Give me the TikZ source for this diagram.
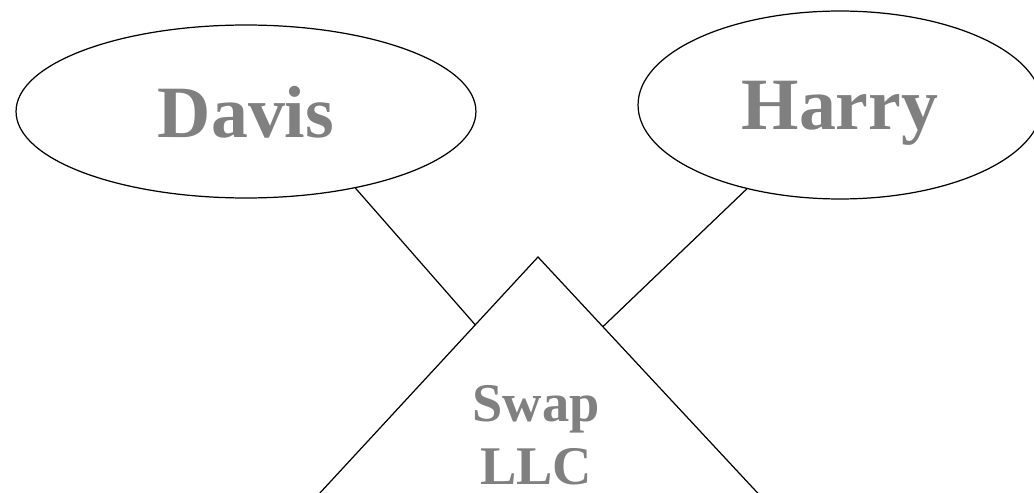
\documentclass[tikz,border=0pt]{standalone}
\usepackage{fontspec}
\setmainfont{Liberation Serif}
\usetikzlibrary{shapes.geometric,calc}
\definecolor{grau}{RGB}{128,128,128}

\begin{document}
\begin{tikzpicture}[
      x=0.02cm, y=-0.02cm,
      person/.style={draw=black, ellipse, line width=0.7pt, inner sep=0pt,
        text depth=0pt, text=grau, font=\fontsize{42}{50}\selectfont\bfseries},
      dreieck/.style={draw=black, line width=0.7pt},
      verbindung/.style={draw=black, line width=0.7pt},
      firma/.style={text=grau, align=center, inner sep=0pt,
        font=\fontsize{31}{36}\selectfont\bfseries}
    ]
    % Bildausschnitt 1034 x 493 (Einheit: ein Pixel)
    \useasboundingbox (0,0) rectangle (1034,493);
    \clip (0,0) rectangle (1034,493);

    % ---------- Personen ----------
    \node[person, minimum width=9.2cm, minimum height=3.46cm] (davis) at (246,111.5) {Davis};
    \node[person, minimum width=8.08cm, minimum height=3.76cm] (harry) at (840,105) {Harry};

    % ---------- Dreieck (unten abgeschnitten) ----------
    \coordinate (spitze) at (538,257);
    \coordinate (basislinks) at (258,560);
    \coordinate (basisrechts) at (820,560);
    \draw[dreieck] (spitze) -- (basislinks) -- (basisrechts) -- cycle;
    \node[firma] (swap) at (536,435) {Swap\\LLC};

    % Andockpunkte auf den Dreiecksseiten
    \coordinate (andocklinks) at ($(spitze)!0.224!(basislinks)$);
    \coordinate (andockrechts) at ($(spitze)!0.23!(basisrechts)$);

    % ---------- Verbindungen ----------
    \draw[verbindung] (davis.-35) -- (andocklinks);
    \draw[verbindung] (harry.-138) -- (andockrechts);
  \end{tikzpicture}
\end{document}
